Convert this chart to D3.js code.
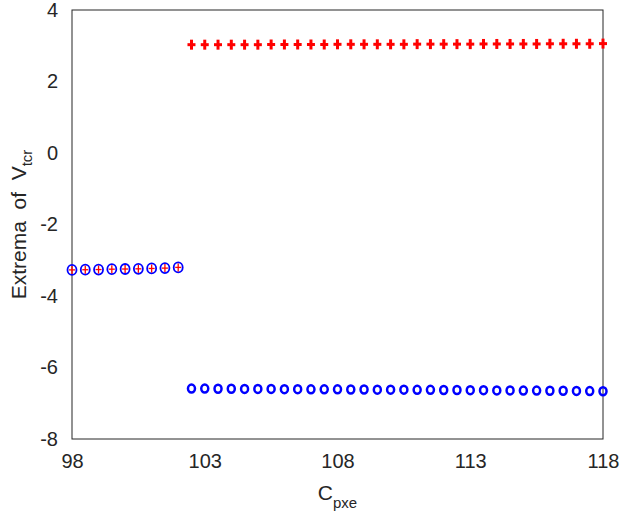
<!DOCTYPE html>
<html>
<head>
<meta charset="utf-8">
<script src="https://cdn.jsdelivr.net/npm/d3@7"></script>
<style>
  body { margin: 0; background: #fff; }
  svg { display: block; font-family: "Liberation Sans", Arial, sans-serif; }
  .lbl { white-space: pre; }
</style>
</head>
<body>
<svg id="chart" width="625" height="521"></svg>
<script>
// Left branch: max and min coincide (single equilibrium value)
const cLeft = [98, 98.5, 99, 99.5, 100, 100.5, 101, 101.5, 102];
const vLeft = [-3.27, -3.265, -3.26, -3.25, -3.245, -3.24, -3.23, -3.22, -3.2];

// Right branch: oscillation extrema
const cRight = [102.5, 103, 103.5, 104, 104.5, 105, 105.5, 106, 106.5, 107, 107.5, 108,
    108.5, 109, 109.5, 110, 110.5, 111, 111.5, 112, 112.5, 113, 113.5, 114,
    114.5, 115, 115.5, 116, 116.5, 117, 117.5, 118];
const vMax = [3.03, 3.03, 3.03, 3.03, 3.03, 3.03, 3.035, 3.035, 3.035, 3.035, 3.035, 3.04,
    3.04, 3.04, 3.04, 3.04, 3.04, 3.045, 3.045, 3.045, 3.045, 3.045, 3.05, 3.05,
    3.05, 3.05, 3.05, 3.055, 3.055, 3.055, 3.055, 3.06];
const vMin = [-6.59, -6.59, -6.595, -6.595, -6.6, -6.6, -6.6, -6.605, -6.605, -6.61, -6.61, -6.61,
    -6.615, -6.615, -6.62, -6.62, -6.62, -6.625, -6.625, -6.63, -6.63, -6.635, -6.635, -6.64,
    -6.64, -6.645, -6.645, -6.65, -6.65, -6.655, -6.66, -6.665];

const xTicks = [98, 103, 108, 113, 118];
const yTicks = [-8, -6, -4, -2, 0, 2, 4];

const margin = { left: 72, right: 22, top: 10, bottom: 82 };
const W = 625, H = 521;

const svg = d3.select('#chart');

const x = d3.scaleLinear().domain([98, 118]).range([margin.left, W - margin.right]);
const y = d3.scaleLinear().domain([-8, 4]).range([H - margin.bottom, margin.top]);

// Axes (no tick marks, labels only)
const xAxis = svg.append('g')
    .attr('transform', `translate(0,${H - margin.bottom})`)
    .call(d3.axisBottom(x).tickValues(xTicks).tickSize(0).tickPadding(15).tickFormat(d3.format('d')));
const yAxis = svg.append('g')
    .attr('transform', `translate(${margin.left},0)`)
    .call(d3.axisLeft(y).tickValues(yTicks).tickSize(0).tickPadding(14).tickFormat(d => d < 0 ? '-' + Math.abs(d) : d));

[xAxis, yAxis].forEach(a => {
    a.select('.domain').remove();
    a.selectAll('text').attr('font-size', 20).attr('fill', '#262626').attr('font-family', '"Liberation Sans", Arial, sans-serif');
});

// Box frame
svg.append('rect')
    .attr('x', x(98)).attr('y', y(4))
    .attr('width', x(118) - x(98)).attr('height', y(-8) - y(4))
    .attr('fill', 'none').attr('stroke', '#262626').attr('stroke-width', 1);

// Markers
const g = svg.append('g');

function plus(sel, arm, w) {
    sel.append('line').attr('x1', -arm).attr('x2', arm).attr('y1', 0).attr('y2', 0)
        .attr('stroke', '#ff0000').attr('stroke-width', w);
    sel.append('line').attr('x1', 0).attr('x2', 0).attr('y1', -arm - 1).attr('y2', arm + 1)
        .attr('stroke', '#ff0000').attr('stroke-width', w);
}

// left: circle + plus overlapping
const left = g.selectAll('.lp').data(cLeft.map((c, i) => ({ c, v: vLeft[i] })))
    .join('g').attr('class', 'lp')
    .attr('transform', d => `translate(${x(d.c)},${y(d.v)})`);
left.append('ellipse').attr('rx', 4.5).attr('ry', 5)
    .attr('fill', 'none').attr('stroke', '#0000ff').attr('stroke-width', 1.8);
left.each(function () { plus(d3.select(this), 3, 1.3); });

// right: minima as circles
g.selectAll('.mn').data(cRight.map((c, i) => ({ c, v: vMin[i] })))
    .join('ellipse').attr('class', 'mn')
    .attr('cx', d => x(d.c)).attr('cy', d => y(d.v))
    .attr('rx', 3.5).attr('ry', 4)
    .attr('fill', 'none').attr('stroke', '#0000ff').attr('stroke-width', 2.5);

// right: maxima as plus
const mx = g.selectAll('.mx').data(cRight.map((c, i) => ({ c, v: vMax[i] })))
    .join('g').attr('class', 'mx')
    .attr('transform', d => `translate(${x(d.c)},${y(d.v)})`);
mx.each(function () { plus(d3.select(this), 4, 3); });

// Axis labels
const yl = svg.append('text').attr('class', 'lbl')
    .attr('transform', `translate(26,${(y(4) + y(-8)) / 2}) rotate(-90)`)
    .attr('text-anchor', 'middle').attr('font-size', 21).attr('fill', '#262626');
yl.append('tspan').text('Extrema  of  V');
yl.append('tspan').attr('font-size', 15).attr('dy', 6).text('tcr');

const xl = svg.append('text')
    .attr('x', (x(98) + x(118)) / 2).attr('y', 500)
    .attr('text-anchor', 'middle').attr('font-size', 21).attr('fill', '#262626');
xl.append('tspan').text('C');
xl.append('tspan').attr('font-size', 15).attr('dy', 8).text('pxe');
</script>
</body>
</html>
